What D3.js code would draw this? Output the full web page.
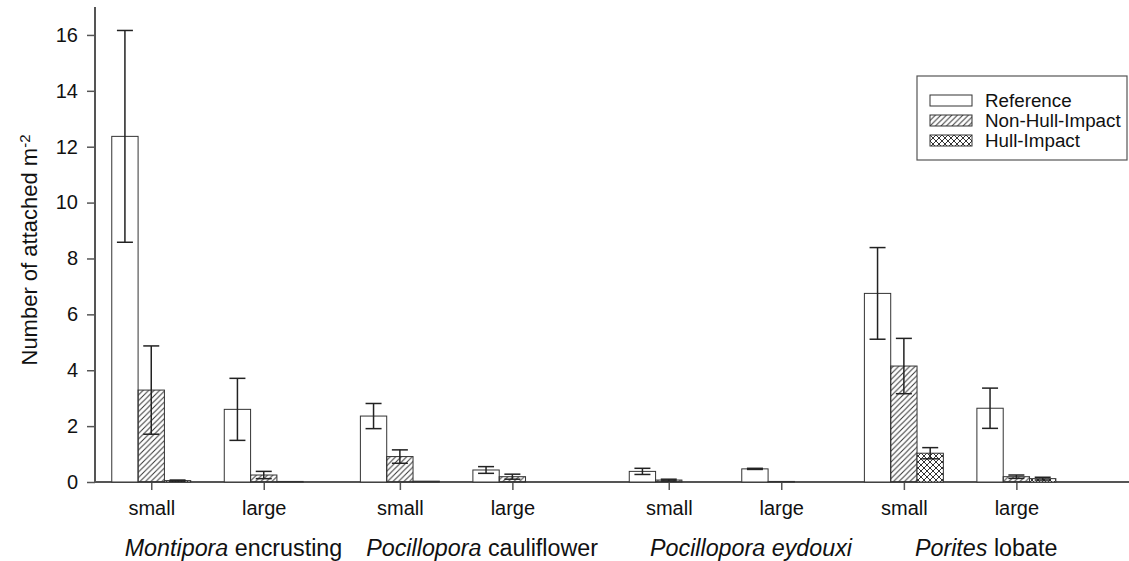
<!DOCTYPE html>
<html>
<head>
<meta charset="utf-8">
<script src="https://cdn.jsdelivr.net/npm/d3@7"></script>
<style>
  body { margin: 0; background: #fff; }
  svg text { font-family: "Liberation Sans", Arial, sans-serif; fill: #111; }
</style>
</head>
<body>
<div id="chart-area"></div>
<script>
// Coral attachment density by species, size class and site type

var sizes = ["small", "large", "small", "large", "small", "large", "small", "large"];
// x positions of the size classes along the axis (as plotted)
var xPos = [1, 2, 3.21, 4.21, 5.6, 6.6, 7.69, 8.69];

var genus = ["Montipora", "Pocillopora", "Pocillopora eydouxi", "Porites"];
var epithet = ["encrusting", "cauliflower", "", "lobate"];

var refMean = [12.37, 2.60, 2.36, 0.43, 0.38, 0.47, 6.75, 2.64];
var refSE   = [3.79, 1.11, 0.45, 0.12, 0.11, 0.02, 1.64, 0.72];

var nonHullMean = [3.29, 0.25, 0.91, 0.19, 0.07, 0.02, 4.15, 0.19];
var nonHullSE   = [1.58, 0.13, 0.24, 0.09, 0.03, 0.00, 0.99, 0.06];

var hullMean = [0.05, 0.02, 0.03, 0, 0, 0, 1.03, 0.12];
var hullSE   = [0.02, 0, 0, 0, 0, 0, 0.20, 0.05];

var seriesNames = ["Reference", "Non-Hull-Impact", "Hull-Impact"];
var yTicks = [0, 2, 4, 6, 8, 10, 12, 14, 16];

var width = 1129, height = 561;
var margin = { left: 95, top: 7, bottom: 79 };

var svg = d3.select("#chart-area")
    .append("svg")
    .attr("width", width)
    .attr("height", height);

// Fill patterns
var defs = svg.append("defs");
defs.append("pattern")
    .attr("id", "hatch")
    .attr("patternUnits", "userSpaceOnUse")
    .attr("width", 5.5).attr("height", 5.5)
  .append("path")
    .attr("d", "M0,5.5 L5.5,0 M-1,1 L1,-1 M4.5,6.5 L6.5,4.5")
    .attr("stroke", "#333")
    .attr("stroke-width", 1);

var cross = defs.append("pattern")
    .attr("id", "cross")
    .attr("patternUnits", "userSpaceOnUse")
    .attr("width", 6).attr("height", 6);
cross.append("rect").attr("width", 6).attr("height", 6).attr("fill", "#fff");
cross.append("path")
    .attr("d", "M0,6 L6,0 M-1,1 L1,-1 M5,7 L7,5 M0,0 L6,6 M-1,5 L1,7 M5,-1 L7,1")
    .attr("stroke", "#333")
    .attr("stroke-width", 1);

var fills = ["#fff", "url(#hatch)", "url(#cross)"];

// Scales
var x = d3.scaleLinear().domain([0.5, 9.7]).range([margin.left, margin.left + 9.2 * 112.5]);
var y = d3.scaleLinear().domain([0, 17]).range([height - margin.bottom, margin.top]);
var barW = x(1.234) - x(1);

// Axes
var yAxis = svg.append("g")
    .attr("transform", "translate(" + margin.left + ",0)")
    .call(d3.axisLeft(y).tickValues(yTicks).tickSize(8).tickPadding(9));
var xAxis = svg.append("g")
    .attr("transform", "translate(0," + y(0) + ")")
    .call(d3.axisBottom(x).tickValues(xPos).tickSize(8).tickPadding(11)
        .tickFormat(function(d, i) { return sizes[i]; }));

[yAxis, xAxis].forEach(function(a) {
    a.select(".domain").attr("stroke", "#555").attr("stroke-width", 2);
    a.selectAll(".tick line").attr("stroke", "#555").attr("stroke-width", 1.5);
    a.selectAll("text").attr("font-size", "20px").attr("fill", "#111");
});
xAxis.select(".domain").attr("d", "M" + margin.left + ",0H" + width);
yAxis.select(".domain").attr("d", "M0," + y(0) + "V" + margin.top);

// Bars
var series = [
    { mean: refMean, se: refSE },
    { mean: nonHullMean, se: nonHullSE },
    { mean: hullMean, se: hullSE }
];

var bars = svg.append("g");
series.forEach(function(s, k) {
    var rows = s.mean.map(function(m, i) {
        return { x: xPos[i], mean: m, se: s.se[i] };
    });
    var left = function(d) { return x(d.x) + (k - 1.5) * barW; };

    bars.selectAll(".bar" + k)
        .data(rows.filter(function(d) { return d.mean > 0; }))
        .enter().append("rect")
        .attr("class", "bar" + k)
        .attr("x", left)
        .attr("y", function(d) { return y(d.mean); })
        .attr("width", barW)
        .attr("height", function(d) { return y(0) - y(d.mean); })
        .attr("fill", fills[k])
        .attr("stroke", "#333")
        .attr("stroke-width", 1);

    var err = bars.selectAll(".err" + k)
        .data(rows.filter(function(d) { return d.mean > 0 && d.se > 0; }))
        .enter().append("g")
        .attr("class", "err" + k)
        .attr("stroke", "#222")
        .attr("stroke-width", 1.5);
    err.append("line")
        .attr("x1", function(d) { return left(d) + barW / 2; })
        .attr("x2", function(d) { return left(d) + barW / 2; })
        .attr("y1", function(d) { return y(d.mean + d.se); })
        .attr("y2", function(d) { return y(d.mean - d.se); });
    [1, -1].forEach(function(sign) {
        err.append("line")
            .attr("x1", function(d) { return left(d) + barW / 2 - 8; })
            .attr("x2", function(d) { return left(d) + barW / 2 + 8; })
            .attr("y1", function(d) { return y(d.mean + sign * d.se); })
            .attr("y2", function(d) { return y(d.mean + sign * d.se); });
    });
});

// Species labels
genus.forEach(function(g, j) {
    var cx = (x(xPos[2 * j]) + x(xPos[2 * j + 1])) / 2 + 26;
    var t = svg.append("text")
        .attr("x", cx)
        .attr("y", 556)
        .attr("text-anchor", "middle")
        .attr("font-size", "23.3px");
    t.append("tspan").attr("font-style", "italic").text(g);
    if (epithet[j]) t.append("tspan").text(" " + epithet[j]);
});

// Y label
var yLabel = svg.append("text")
    .attr("transform", "translate(37," + 250 + ") rotate(-90)")
    .attr("text-anchor", "middle")
    .attr("font-size", "22px");
yLabel.append("tspan").text("Number of attached m");
yLabel.append("tspan").attr("dy", "-0.5em").attr("font-size", "15px").text("-2");

// Legend
var legend = svg.append("g").attr("transform", "translate(917,76)");
legend.append("rect")
    .attr("width", 210).attr("height", 84)
    .attr("fill", "#fff")
    .attr("stroke", "#555")
    .attr("stroke-width", 1.2);
seriesNames.forEach(function(name, k) {
    var row = legend.append("g").attr("transform", "translate(13," + (19 + k * 20) + ")");
    row.append("rect")
        .attr("width", 42).attr("height", 11)
        .attr("fill", fills[k])
        .attr("stroke", "#333");
    row.append("text")
        .attr("x", 55).attr("y", 12)
        .attr("font-size", "18.8px")
        .text(name);
});
</script>
</body>
</html>
